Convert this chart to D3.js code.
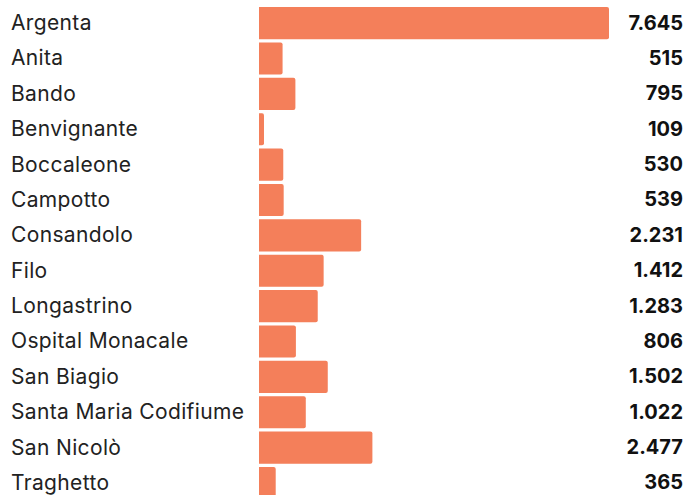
<!DOCTYPE html>
<html>
<head>
<meta charset="utf-8">
<script src="https://cdn.jsdelivr.net/npm/d3@7"></script>
<style>
  body { margin: 0; background: #fff; }
  .lbl { font-family: Inter, sans-serif; font-size: 21px; letter-spacing: 0.35px; fill: #222; }
  .val { font-family: Inter, sans-serif; font-size: 20px; font-weight: bold; fill: #111; }
</style>
</head>
<body>
<svg id="chart"></svg>
<script>
const places = ["Argenta","Anita","Bando","Benvignante","Boccaleone","Campotto","Consandolo","Filo",
  "Longastrino","Ospital Monacale","San Biagio","Santa Maria Codifiume","San Nicolò","Traghetto"];
const residents = [7645,515,795,109,530,539,2231,1412,1283,806,1502,1022,2477,365];

const width = 684, height = 495;
const svg = d3.select('#chart').attr('width', width).attr('height', height);

const x = d3.scaleLinear().domain([0, 7645]).range([259, 609]);
const step = 35.15;
const y = d3.scaleBand().domain(places).range([7, 7 + places.length * step]).paddingInner(3.15 / step).paddingOuter(0);

const fmt = d3.formatLocale({decimal: ",", thousands: ".", grouping: [3], currency: ["", "€"]}).format(",d");

const rows = svg.selectAll('g.row').data(places).enter().append('g').attr('class', 'row');

rows.append('path')
  .attr('fill', '#f47f5a')
  .attr('d', (d, i) => {
    const x0 = x(0), x1 = x(residents[i]), y0 = y(d), h = y.bandwidth(), r = 2;
    return `M${x0},${y0}H${x1 - r}Q${x1},${y0} ${x1},${y0 + r}V${y0 + h - r}Q${x1},${y0 + h} ${x1 - r},${y0 + h}H${x0}Z`;
  });

rows.append('text').attr('class', 'lbl')
  .attr('x', 11)
  .attr('y', d => y(d) + y.bandwidth() / 2 + 7)
  .text(d => d);

rows.append('text').attr('class', 'val')
  .attr('x', 683)
  .attr('text-anchor', 'end')
  .attr('y', d => y(d) + y.bandwidth() / 2 + 6.5)
  .text((d, i) => fmt(residents[i]));
</script>
</body>
</html>
